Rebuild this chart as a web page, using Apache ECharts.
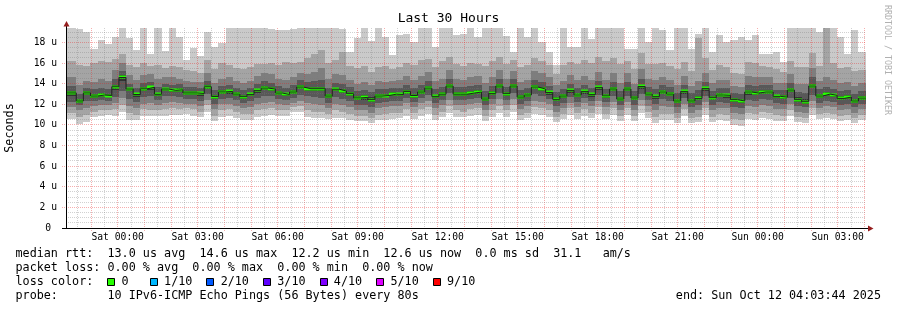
<!DOCTYPE html>
<html><head><meta charset="utf-8">
<script src="https://cdn.jsdelivr.net/npm/echarts@6/dist/echarts.min.js"></script>
<style>html,body{margin:0;padding:0;background:#fff}#c{width:897px;height:310px}</style>
</head><body><div id="c"></div>
<script>
// ---- data (microseconds), one value per 16-minute step, oldest first ----
const median = [
13.1,12.32,13.1,12.8,12.9,12.85,13.7,14.6,13.48,12.95,13.5,13.65,12.97,13.48,13.35,13.4,13.1,13.1,13.05,13.7,12.75,13.2,
13.25,12.99,12.74,12.96,13.35,13.57,13.48,13.09,12.95,13.19,13.67,13.51,13.51,13.51,12.8,13.46,13.28,13.03,12.62,12.67,12.45,12.8,12.85,
12.98,12.95,13.23,12.85,13.19,13.57,12.77,12.98,13.77,12.98,12.98,13.09,13.19,12.51,13.06,13.77,13.03,13.77,12.7,12.9,13.67,13.48,
13.15,12.48,12.8,13.35,12.9,13.25,12.96,13.64,12.82,13.48,12.51,13.48,12.61,13.73,12.99,12.77,13.19,12.99,12.32,13.25,12.32,12.57,13.54,
12.64,12.9,12.87,12.45,12.32,13.19,13.09,13.19,13.19,12.77,12.7,13.38,12.45,12.25,13.77,12.8,12.99,12.87,12.57,12.7,12.32,12.6];
const ping1 = [
10.6,10.1,10.3,10.8,10.9,11.0,10.9,11.3,10.5,10.5,10.9,10.9,10.9,10.9,11.0,11.0,11.1,10.9,10.8,11.3,10.4,10.8,
10.9,10.7,10.5,10.5,10.8,10.9,11.0,10.9,10.9,11.3,11.3,10.8,10.7,10.7,10.6,10.7,10.7,10.5,10.4,10.4,10.2,10.5,10.5,
10.6,10.7,10.9,10.6,10.9,11.1,10.5,10.8,11.2,10.8,10.8,10.9,11.0,10.4,10.8,11.2,10.8,11.3,10.5,10.7,11.1,11.0,
10.8,10.3,10.6,11.0,10.6,10.9,10.7,11.1,10.6,11.0,10.4,11.0,10.4,11.2,10.7,10.2,10.5,10.5,10.2,10.9,10.2,10.3,11.0,
10.3,10.5,10.4,10.0,9.9,10.6,10.5,10.7,10.6,10.4,10.4,10.9,10.3,10.2,11.0,10.6,10.7,10.6,10.4,10.5,10.2,10.5];
const ping2 = [
11.2,10.8,11.0,11.3,11.4,11.4,11.5,11.9,11.2,11.0,11.5,11.4,11.4,11.5,11.6,11.5,11.6,11.5,11.3,11.9,10.9,11.4,
11.5,11.3,11.1,11.1,11.4,11.5,11.6,11.4,11.4,11.7,11.8,11.4,11.3,11.3,11.1,11.4,11.3,11.1,10.9,10.9,10.7,11.0,11.1,
11.2,11.2,11.5,11.2,11.5,11.7,11.0,11.3,11.8,11.4,11.3,11.5,11.6,10.9,11.4,11.8,11.4,11.9,11.0,11.2,11.7,11.6,
11.4,10.8,11.1,11.6,11.2,11.5,11.2,11.7,11.1,11.6,10.9,11.6,10.9,11.8,11.3,10.8,11.1,11.1,10.7,11.5,10.7,10.8,11.6,
10.8,11.1,11.0,10.6,10.5,11.2,11.1,11.3,11.2,11.0,10.9,11.4,10.8,10.7,11.6,11.1,11.2,11.1,10.9,11.0,10.7,11.0];
const ping3 = [
11.7,11.4,11.6,11.8,11.9,11.9,12.1,12.6,11.8,11.6,12.0,12.1,11.9,12.1,12.2,12.1,12.0,12.0,11.8,12.4,11.5,12.0,
12.0,11.8,11.6,11.7,12.0,12.1,12.2,12.0,11.9,12.1,12.3,12.1,12.0,11.9,11.6,12.0,11.9,11.7,11.4,11.4,11.2,11.6,11.7,
11.8,11.8,12.1,11.7,12.1,12.3,11.6,11.9,12.4,11.9,11.9,12.0,12.1,11.4,12.0,12.5,11.9,12.5,11.5,11.8,12.3,12.2,
12.0,11.3,11.6,12.1,11.7,12.1,11.8,12.3,11.7,12.2,11.4,12.2,11.4,12.4,11.8,11.4,11.8,11.7,11.2,12.0,11.2,11.4,12.2,
11.4,11.6,11.6,11.2,11.1,11.8,11.7,11.9,11.8,11.5,11.5,12.0,11.3,11.2,12.3,11.6,11.8,11.7,11.4,11.5,11.2,11.5];
const ping4 = [
12.2,11.9,12.3,12.3,12.4,12.3,12.7,13.3,12.5,12.2,12.7,12.8,12.4,12.8,12.8,12.7,12.5,12.5,12.3,13.0,12.0,12.5,
12.6,12.4,12.1,12.3,12.6,12.8,12.8,12.5,12.4,12.6,12.9,12.8,12.7,12.6,12.1,12.7,12.5,12.3,11.9,11.9,11.7,12.1,12.2,
12.3,12.3,12.6,12.2,12.6,12.9,12.1,12.4,13.1,12.4,12.4,12.5,12.6,11.9,12.5,13.1,12.4,13.1,12.0,12.3,13.0,12.8,
12.5,11.8,12.1,12.7,12.2,12.6,12.3,12.9,12.2,12.8,11.9,12.8,11.9,13.0,12.4,12.0,12.5,12.3,11.7,12.6,11.7,11.9,12.8,
11.9,12.2,12.1,11.7,11.6,12.4,12.3,12.5,12.4,12.1,12.0,12.6,11.8,11.7,12.9,12.1,12.3,12.2,11.9,12.0,11.7,12.0];
const ping5 = [
12.8,12.1,12.9,12.6,12.7,12.7,13.4,14.3,13.3,12.7,13.3,13.4,12.8,13.3,13.2,13.2,12.9,12.9,12.8,13.5,12.5,13.0,
13.0,12.8,12.5,12.8,13.1,13.4,13.3,12.9,12.8,13.0,13.5,13.3,13.3,13.3,12.6,13.3,13.1,12.8,12.4,12.4,12.2,12.6,12.7,
12.8,12.8,13.0,12.6,13.0,13.4,12.6,12.8,13.6,12.8,12.8,12.9,13.0,12.3,12.9,13.6,12.8,13.6,12.5,12.7,13.5,13.3,
12.9,12.3,12.6,13.1,12.7,13.0,12.7,13.4,12.6,13.3,12.3,13.3,12.4,13.5,12.8,12.5,13.0,12.8,12.1,13.0,12.1,12.4,13.3,
12.4,12.7,12.6,12.2,12.1,12.9,12.9,13.0,13.0,12.6,12.5,13.2,12.2,12.0,13.6,12.6,12.8,12.7,12.4,12.5,12.1,12.4];
const ping6 = [
13.3,12.5,13.3,13.0,13.1,13.0,13.9,14.8,13.6,13.1,13.7,13.8,13.1,13.6,13.5,13.6,13.3,13.3,13.2,13.9,12.9,13.4,
13.4,13.2,12.9,13.1,13.5,13.8,13.7,13.3,13.1,13.4,13.9,13.7,13.7,13.7,13.0,13.6,13.5,13.2,12.8,12.9,12.7,13.0,13.0,
13.2,13.1,13.4,13.0,13.4,13.8,12.9,13.2,14.0,13.2,13.2,13.3,13.4,12.7,13.3,14.0,13.2,14.0,12.9,13.1,13.9,13.7,
13.3,12.7,13.0,13.5,13.1,13.4,13.1,13.8,13.0,13.7,12.7,13.7,12.8,13.9,13.2,12.9,13.4,13.2,12.5,13.4,12.5,12.8,13.7,
12.8,13.1,13.0,12.6,12.5,13.4,13.3,13.4,13.4,12.9,12.9,13.6,12.7,12.5,14.0,13.0,13.2,13.0,12.8,12.9,12.5,12.8];
const ping7 = [
13.8,13.0,13.6,13.5,13.6,13.5,14.5,15.2,14.0,13.6,14.1,14.2,13.7,14.0,13.9,14.0,13.7,13.7,13.6,14.3,13.4,13.8,
13.9,13.6,13.4,13.6,14.0,14.3,14.1,13.8,13.6,13.9,14.4,14.2,14.3,14.4,13.6,14.1,14.0,13.7,13.3,13.4,13.2,13.5,13.5,
13.6,13.6,13.9,13.6,13.9,14.3,13.5,13.7,14.5,13.7,13.7,13.8,13.9,13.3,13.8,14.5,13.7,14.5,13.4,13.6,14.4,14.2,
13.8,13.2,13.5,14.0,13.6,13.9,13.6,14.3,13.5,14.2,13.3,14.2,13.3,14.5,13.7,13.5,13.9,13.7,13.1,13.9,13.1,13.4,14.2,
13.3,13.6,13.6,13.1,13.0,13.9,13.8,13.9,13.9,13.4,13.4,14.1,13.2,13.1,14.6,13.5,13.7,13.5,13.3,13.4,13.0,13.3];
const ping8 = [
14.6,13.9,14.3,14.2,14.5,14.3,15.3,16.0,14.8,14.4,14.8,14.9,14.5,14.6,14.6,14.5,14.3,14.2,14.2,15.0,14.1,14.5,
14.6,14.3,14.1,14.3,14.7,15.0,14.9,14.5,14.4,14.6,15.0,14.9,15.1,15.5,14.5,14.9,14.8,14.4,14.0,14.2,13.9,14.3,14.2,
14.3,14.4,14.7,14.4,14.7,15.1,14.3,14.5,15.3,14.5,14.4,14.6,14.7,14.1,14.6,15.3,14.5,15.2,14.2,14.4,15.2,15.0,
14.6,13.9,14.3,14.8,14.4,14.7,14.4,15.1,14.4,15.0,14.1,15.0,14.0,15.4,14.5,14.4,14.6,14.4,13.9,14.7,13.8,14.3,15.0,
14.1,14.4,14.4,13.8,13.7,14.7,14.6,14.6,14.6,14.1,14.1,14.9,14.0,14.0,15.5,14.3,14.6,14.4,14.1,14.2,13.8,14.1];
const ping9 = [
16.2,15.8,15.7,16.0,16.2,16.1,16.4,16.9,15.8,15.6,16.0,15.7,15.8,15.5,15.7,15.6,15.3,15.2,15.0,16.3,15.4,16.0,
15.8,15.5,15.4,15.6,15.9,15.9,16.0,15.8,16.1,16.0,16.1,16.5,16.9,17.3,16.0,16.3,17.1,15.7,15.5,15.7,15.1,15.6,15.7,
15.4,15.6,16.0,15.8,16.3,16.4,15.6,16.2,16.6,15.9,15.7,16.0,15.9,15.7,16.2,16.6,15.9,16.3,15.6,15.8,16.5,16.2,
15.8,14.9,15.8,16.1,15.9,16.3,16.0,16.6,16.2,16.5,15.9,16.2,15.4,17.0,15.9,15.9,16.0,15.7,15.4,16.1,15.2,18.4,16.5,
15.3,15.8,15.6,15.0,14.9,16.1,16.0,15.7,15.6,15.4,15.1,16.2,15.6,15.6,17.0,15.7,19.4,16.0,15.5,15.6,15.2,15.3];
const ping10 = [
19.4,19.3,19.0,17.4,18.2,17.8,18.5,19.4,18.45,17.3,19.4,16.85,19.4,17.2,19.4,18.55,16.3,17.5,16.7,19.0,17.56,17.9,
19.4,19.4,19.4,19.4,19.4,19.4,19.3,19.2,19.2,19.3,19.4,19.4,19.4,19.4,19.4,19.4,19.35,17.1,18.4,19.4,18.1,19.4,18.5,
16.8,18.7,18.8,18.05,19.4,19.4,17.57,19.4,19.4,18.7,18.85,19.4,18.53,19.4,19.4,19.4,18.6,17.1,19.4,18.53,19.4,18.05,
17.08,15.8,19.4,17.57,17.57,19.4,18.37,19.4,19.4,19.4,19.4,17.4,17.4,19.4,18.05,19.4,19.2,17.24,19.4,19.4,17.4,18.85,19.4,
17.08,18.7,18.05,18.2,18.53,18.2,18.7,16.92,16.92,17.08,16.12,19.4,19.4,19.4,19.4,19.0,19.4,19.4,18.53,16.92,19.2,17.08];

// time axis: minutes relative to Sat 00:00
const X_MIN = -116.2667;          // Fri 22:03:44
const X_MAX = 1683.7333;          // Sun 04:03:44
const STEP = 16;                  // minutes per consolidated step
const FIRST_END = -93.2;          // end of the first (partial) step
const xTickLabels = ['Sat 00:00','Sat 03:00','Sat 06:00','Sat 09:00','Sat 12:00','Sat 15:00','Sat 18:00','Sat 21:00','Sun 00:00','Sun 03:00'];
const yTickLabels = ['0 ','2 u','4 u','6 u','8 u','10 u','12 u','14 u','16 u','18 u'];
const Y_MAX = 19.4;
const X_GRID_MINUTES = 30, X_MAJOR_MINUTES = 60;
const Y_GRID_STEP = 0.5, Y_MAJOR_STEP = 2;

const lossColors = ['#26ff00','#00b8ff','#0059ff','#5e00ff','#7e00ff','#dd00ff','#ff0000'];

// ---- layout ----
const FONT = "'DejaVu Sans Mono', monospace";
const G = {left: 66, top: 28, width: 800, height: 200};
const MAJOR = 'rgba(230,30,30,0.36)';
const MINOR = 'rgba(120,120,120,0.34)';

const N = median.length;
const steps = median.map((_, k) => [k === 0 ? X_MIN : FIRST_END + STEP * (k - 1), k === N - 1 ? X_MAX : FIRST_END + STEP * k]);

// grid positions (axis ticks)
const xGrid = [];
for (let v = Math.ceil(X_MIN / X_GRID_MINUTES) * X_GRID_MINUTES; v < X_MAX; v += X_GRID_MINUTES) xGrid.push(v);
const yGrid = [];
for (let i = 1; i * Y_GRID_STEP < Y_MAX; i++) yGrid.push(i * Y_GRID_STEP);

function rectItem(color) {
  return (params, api) => {
    const a = api.coord([api.value(0), api.value(3)]);
    const b = api.coord([api.value(1), api.value(2)]);
    const x0 = Math.round(a[0]), x1 = Math.round(b[0]);
    const y0 = Math.round(a[1]), y1 = Math.round(b[1]);
    return {type: 'rect', shape: {x: x0, y: y0, width: x1 - x0, height: y1 - y0}, style: {fill: color}};
  };
}
function band(lo, hi, color) {
  return {
    type: 'custom', silent: true, animation: false,
    renderItem: rectItem(color),
    encode: {x: [0, 1], y: [2, 3]},
    data: steps.map((s, k) => [s[0], s[1], lo[k], hi[k]])
  };
}
const isMult = (v, m) => Math.abs(v / m - Math.round(v / m)) < 1e-6;

const chart = echarts.init(document.getElementById('c'), null, {renderer: 'canvas'});
const series = [
  band(ping1, ping10, '#cacaca'),
  band(ping2, ping9, '#a4a4a4'),
  band(ping3, ping8, '#7e7e7e'),
  band(ping4, ping7, '#585858'),
  band(ping5, ping6, '#323232'),
  { // vertical grid
    type: 'custom', silent: true, animation: false, clip: false,
    encode: {x: 0},
    data: xGrid.map(v => [v]),
    renderItem: (params, api) => {
      const v = api.value(0);
      const major = isMult(v, X_MAJOR_MINUTES);
      const p = api.coord([v, 0]);
      const t = api.coord([v, Y_MAX]);
      const x = Math.round(p[0] - 0.5) + 0.5;
      return {type: 'line', shape: {x1: x, y1: Math.round(t[1]), x2: x, y2: Math.round(p[1]) + (major ? 3 : 0)},
              style: {stroke: major ? MAJOR : MINOR, lineWidth: 1, lineDash: [1, 1]}};
    }
  },
  { // horizontal grid
    type: 'custom', silent: true, animation: false, clip: false,
    encode: {y: 0},
    data: yGrid.map(v => [X_MIN, v]),
    encode: {x: 0, y: 1},
    renderItem: (params, api) => {
      const v = api.value(1);
      const major = isMult(v, Y_MAJOR_STEP);
      const l = api.coord([X_MIN, v]);
      const r = api.coord([X_MAX, v]);
      const y = Math.round(l[1] - 0.5) + 0.5;
      return {type: 'line', shape: {x1: Math.round(l[0]) - (major ? 4 : 0), y1: y, x2: Math.round(r[0]), y2: y},
              style: {stroke: major ? MAJOR : MINOR, lineWidth: 1, lineDash: [1, 1]}};
    }
  },
  {
    type: 'line', step: 'end', symbol: 'none', silent: true, animation: false,
    lineStyle: {color: '#202020', width: 1},
    data: steps.map((s, k) => [s[0], median[k]]).concat([[X_MAX, median[N - 1]]])
  },
  {
    type: 'custom', silent: true, animation: false,
    encode: {x: [0, 1], y: 2},
    data: steps.map((s, k) => [s[0], s[1], median[k]]),
    renderItem: (params, api) => {
      const a = api.coord([api.value(0), api.value(2)]);
      const b = api.coord([api.value(1), api.value(2)]);
      const x0 = Math.round(a[0]), x1 = Math.round(b[0]);
      return {type: 'rect', shape: {x: x0, y: Math.round(a[1]) - 1.5, width: x1 - x0, height: 3}, style: {fill: lossColors[0]}};
    }
  }
];

const CW = 11.75 * 0.602;
const TX = 15.5;
const legendLines = [
  'median rtt:  13.0 us avg  14.6 us max  12.2 us min  12.6 us now  0.0 ms sd  31.1   am/s',
  'packet loss: 0.00 % avg  0.00 % max  0.00 % min  0.00 % now',
  'loss color:    0     1/10    2/10    3/10    4/10    5/10    9/10',
  'probe:       10 IPv6-ICMP Echo Pings (56 Bytes) every 80s'
];
const lineY = [254, 268.3, 282.3, 296.3];
const boxCols = [13, 19, 27, 35, 43, 51, 59];

const graphics = [];
graphics.push({type: 'text', x: 448.5, y: 19, style: {text: 'Last 30 Hours', font: "13px " + FONT, fill: '#000', align: 'center', verticalAlign: 'middle', textAlign: 'center', textVerticalAlign: 'middle'}});
legendLines.forEach((t, i) => graphics.push({type: 'text', x: TX, y: lineY[i], style: {text: t, font: "11.75px " + FONT, fill: '#000', verticalAlign: 'middle', textVerticalAlign: 'middle'}}));
boxCols.forEach((c, i) => graphics.push({type: 'rect', shape: {x: Math.round(TX + c * CW) + 0.5, y: 278.5, width: 7, height: 7}, style: {fill: lossColors[i], stroke: '#000', lineWidth: 1}}));
graphics.push({type: 'text', x: 881, y: lineY[3], style: {text: 'end: Sun Oct 12 04:03:44 2025', font: "11.75px " + FONT, fill: '#000', align: 'right', textAlign: 'right', verticalAlign: 'middle', textVerticalAlign: 'middle'}});
graphics.push({type: 'text', x: 887, y: 60, rotation: -Math.PI / 2, style: {text: 'RRDTOOL / TOBI OETIKER', font: "8.3px " + FONT, fill: '#b0b0b0', align: 'center', textAlign: 'center', verticalAlign: 'middle', textVerticalAlign: 'middle'}});
// axis extensions + arrows
const ax = G.left + 0.5, ay = G.top + G.height + 0.5;
graphics.push({type: 'line', shape: {x1: 62, y1: ay, x2: G.left + G.width + 3, y2: ay}, style: {stroke: '#000', lineWidth: 1}, z: 10});
graphics.push({type: 'line', shape: {x1: ax, y1: ay, x2: ax, y2: G.top - 3}, style: {stroke: '#000', lineWidth: 1}, z: 10});
graphics.push({type: 'polygon', shape: {points: [[ax, G.top - 7], [ax - 3, G.top - 1.5], [ax + 3, G.top - 1.5]]}, style: {fill: '#961e1e'}, z: 11});
graphics.push({type: 'polygon', shape: {points: [[G.left + G.width + 7.5, ay], [G.left + G.width + 2, ay - 3], [G.left + G.width + 2, ay + 3]]}, style: {fill: '#961e1e'}, z: 11});

chart.setOption({
  animation: false,
  backgroundColor: '#fff',
  grid: {left: G.left, top: G.top, width: G.width, height: G.height, containLabel: false, outerBoundsMode: 'none'},
  xAxis: [{
    type: 'value', min: X_MIN, max: X_MAX, minInterval: 30, maxInterval: 30, z: 5,
    axisLine: {show: true, onZero: false, lineStyle: {color: '#000', width: 1}},
    axisTick: {show: false},
    axisLabel: {
      color: '#000', fontFamily: FONT, fontSize: 9.7, margin: 4, hideOverlap: false,
      formatter: v => isMult(v, 180) ? (xTickLabels[Math.round(v / 180)] || '') : ''
    },
    splitLine: {show: false}
  }],
  yAxis: [{
    type: 'value', min: 0, max: Y_MAX, interval: 2, z: 5,
    axisLine: {show: true, onZero: false, lineStyle: {color: '#000', width: 1}},
    axisTick: {show: false},
    axisLabel: {
      color: '#000', fontFamily: FONT, fontSize: 9.7, margin: 9,
      formatter: v => isMult(v, 2) ? (yTickLabels[Math.round(v / 2)] || '') : ''
    },
    splitLine: {show: false},
    name: 'Seconds', nameLocation: 'middle', nameGap: 50,
    nameTextStyle: {color: '#000', fontFamily: FONT, fontSize: 11.75}
  }],
  series: series,
  graphic: graphics
});
</script>
</body></html>
